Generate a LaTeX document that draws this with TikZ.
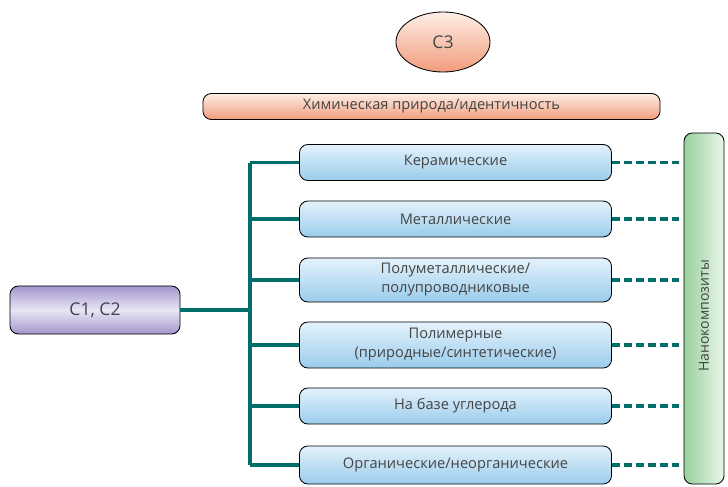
\documentclass[tikz,border=0pt]{standalone}
\usepackage{fontspec}
\setmainfont{Open Sans}
\usetikzlibrary{shapes.geometric}
\definecolor{teal}{HTML}{006E6B}
\definecolor{txtgray}{HTML}{444444}
\definecolor{bluetop}{HTML}{E4F2FB}
\definecolor{bluebot}{HTML}{9ACCEC}
\definecolor{salmontop}{HTML}{FDEEE6}
\definecolor{salmonbot}{HTML}{F29C7C}
\definecolor{lilacedge}{HTML}{A395CC}
\definecolor{lilacmid}{HTML}{E9E6F5}
\definecolor{greenleft}{HTML}{98D09C}
\definecolor{greenright}{HTML}{EAF6EA}
\tikzset{
  box/.style={draw=black, line width=0.6pt, rounded corners=6pt, inner sep=0pt,
    text=txtgray, font=\fontsize{10.4}{13.5}\selectfont, align=center},
  classbox/.style={box, minimum width=7.8cm, top color=bluetop, bottom color=bluebot},
  salmonbox/.style={box, top color=salmontop, bottom color=salmonbot},
  branch/.style={teal, line width=2.3pt},
  dashlink/.style={teal, line width=2.3pt, dash pattern=on 5.5pt off 3pt},
}
\begin{document}
\begin{tikzpicture}[x=0.025cm,y=-0.025cm]
			\useasboundingbox (0,0) rectangle (728,486);
			\node[salmonbox, ellipse, minimum width=2.35cm, minimum height=1.5cm, font=\fontsize{12.5}{14}\selectfont] at (443,42) (c3) {C3};
			\node[salmonbox, minimum width=11.425cm, minimum height=0.65cm] at (431.5,106.5) (chem) {Химическая природа/идентичность};
			\node[box, minimum width=4.25cm, minimum height=1.2cm, top color=lilacedge, bottom color=lilacedge, middle color=lilacmid, font=\fontsize{12.5}{14}\selectfont] at (95,310) (c12) {C1, C2};
			\node[box, minimum width=1.0cm, minimum height=8.775cm, left color=greenleft, right color=greenright] at (704,308.5) (nano) {};
			\node[rotate=90, text=txtgray, font=\fontsize{10}{12}\selectfont] at (704,316) (nanotxt) {Нанокомпозиты};
			\node[classbox, minimum height=0.9cm] at (455.5,162.5) (ceram) {Керамические};
			\node[classbox, minimum height=0.9cm] at (455.5,219) (metal) {Металлические};
			\node[classbox, minimum height=1.1cm] at (455.5,280) (semi) {Полуметаллические/\\полупроводниковые};
			\node[classbox, minimum height=1.15cm] at (455.5,345) (poly) {Полимерные\\(природные/синтетические)};
			\node[classbox, minimum height=0.9cm] at (455.5,406) (carbon) {На базе углерода};
			\node[classbox, minimum height=0.95cm] at (455.5,465) (organ) {Органические/неорганические};
			\coordinate (ttop) at (250,162.5);
			\coordinate (tbot) at (250,465);
			\coordinate (tmid) at (250,310);
			\draw[branch] (ttop)--(tbot);
			\draw[branch] (c12.east)--(tmid);
			\foreach \n in {ceram,metal,semi,poly,carbon,organ}{
				\draw[branch] (ttop|-\n.west)--(\n.west);
				\draw[dashlink] (\n.east)--(nano.west|-\n.east);
			}
		\end{tikzpicture}
\end{document}
